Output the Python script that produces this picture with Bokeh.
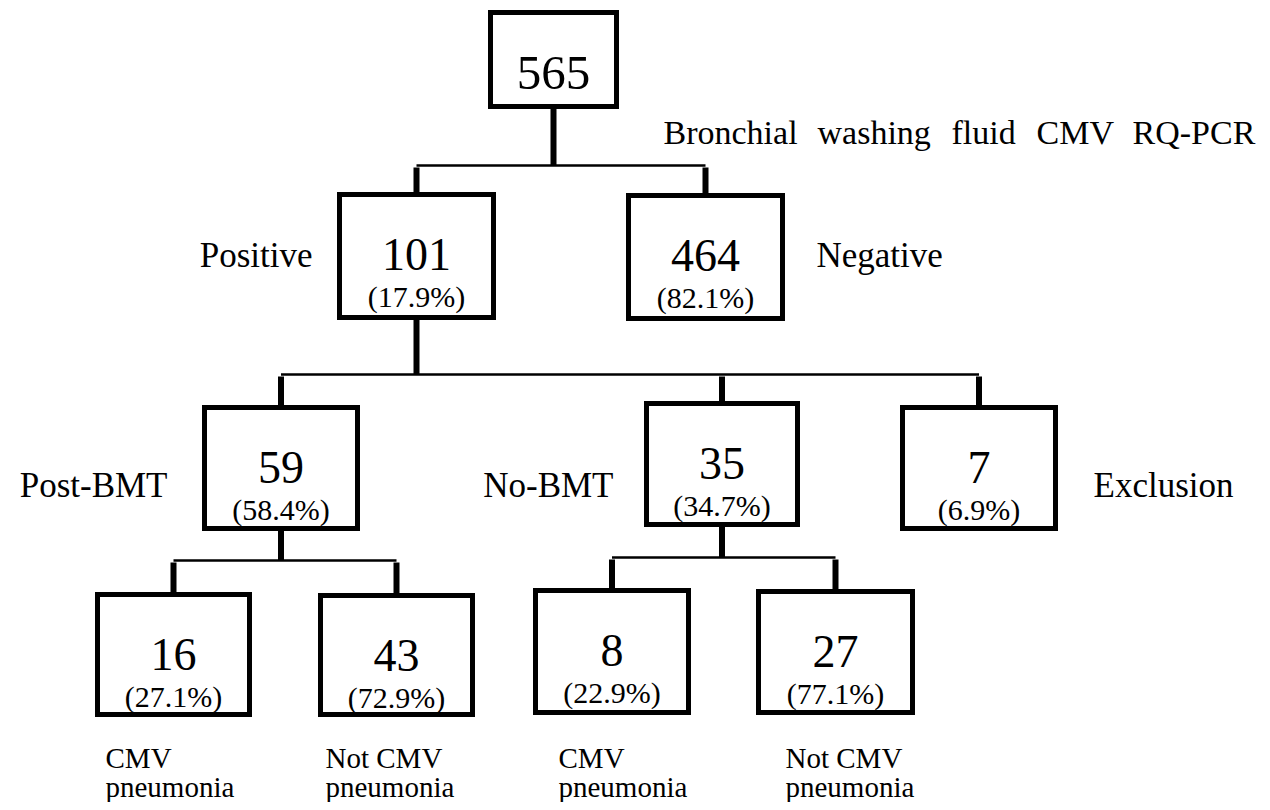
from bokeh.plotting import figure
from bokeh.models import Range1d, ColumnDataSource
from bokeh.core.properties import value
from bokeh.embed import file_html
from bokeh.resources import INLINE

# ---------------- data ----------------
node_ids = ["all", "pos", "neg", "post", "nobmt", "excl",
            "post_cmv", "post_not", "nobmt_cmv", "nobmt_not"]
counts = [565, 101, 464, 59, 35, 7, 16, 43, 8, 27]
pcts = ["", "(17.9%)", "(82.1%)", "(58.4%)", "(34.7%)", "(6.9%)",
        "(27.1%)", "(72.9%)", "(22.9%)", "(77.1%)"]
parents = [None, "all", "all", "pos", "pos", "pos",
           "post", "post", "nobmt", "nobmt"]

side_labels = ["Positive", "Negative", "Post-BMT", "No-BMT", "Exclusion"]
title_words = ["Bronchial", "washing", "fluid", "CMV", "RQ-PCR"]
bottom_top = ["CMV", "Not CMV", "CMV", "Not CMV"]
bottom_bot = ["pneumonia", "pneumonia", "pneumonia", "pneumonia"]

# ---------------- layout (pixel coordinates of the picture) ----------------
box_left = [490, 339, 628, 204, 646, 902, 97, 320, 535, 758]
box_right = [616, 493, 782, 357, 797, 1055, 249, 472, 688, 912]
box_top = [12, 194, 195, 407, 403, 407, 594, 595, 590, 591]
box_bottom = [106, 317, 318, 528, 524, 528, 714, 714, 712, 712]
bus_y = {"all": 165, "pos": 374, "post": 560, "nobmt": 557}

side_x = [312, 816, 167, 613, 1093]
side_y = [255, 255, 485, 485, 485]
side_align = ["right", "left", "right", "right", "left"]

title_x = [663, 817, 951, 1036, 1132]
title_y = 132

bottom_x = [105, 325, 558, 785]
bottom_y1 = 757
bottom_y2 = 786

SERIF = value("Liberation Serif")

W, H = 1262, 802
p = figure(width=W, height=H, x_range=Range1d(0, W), y_range=Range1d(H, 0),
           output_backend="svg", toolbar_location=None, min_border=0,
           x_axis_type=None, y_axis_type=None, outline_line_color=None,
           background_fill_color="white", border_fill_color="white")
p.grid.visible = False

idx = {n: i for i, n in enumerate(node_ids)}
cx = [(l + r) / 2 for l, r in zip(box_left, box_right)]

# connectors
stem_x0, stem_y0, stem_x1, stem_y1 = [], [], [], []
bus_x0, bus_x1, bus_yy = [], [], []
for par, by in bus_y.items():
    pi = idx[par]
    kids = [i for i, pp in enumerate(parents) if pp == par]
    stem_x0.append(cx[pi]); stem_x1.append(cx[pi])
    stem_y0.append(box_bottom[pi]); stem_y1.append(by)
    kx = [cx[k] for k in kids] + [cx[pi]]
    bus_x0.append(min(kx)); bus_x1.append(max(kx)); bus_yy.append(by)
    for k in kids:
        stem_x0.append(cx[k]); stem_x1.append(cx[k])
        stem_y0.append(by + 2); stem_y1.append(box_top[k])

p.segment(x0=bus_x0, y0=bus_yy, x1=bus_x1, y1=bus_yy, line_color="black", line_width=2.5)
p.segment(x0=stem_x0, y0=stem_y0, x1=stem_x1, y1=stem_y1, line_color="black", line_width=6)

# boxes
src = ColumnDataSource(dict(left=box_left, right=box_right, top=box_top, bottom=box_bottom,
                            cx=cx, num=[str(c) for c in counts], pct=pcts,
                            ny=[t + 60 for t in box_top], py=[t + 102 for t in box_top],
                            fs=["49px" if n == "all" else "46px" for n in node_ids]))
p.quad(left="left", right="right", top="top", bottom="bottom", source=src,
       fill_color="white", line_color="black", line_width=5, line_join="miter")
p.text(x="cx", y="ny", text="num", source=src, text_font=SERIF, text_font_size="fs",
       text_align="center", text_baseline="alphabetic", text_color="black")
p.text(x="cx", y="py", text="pct", source=src, text_font=SERIF, text_font_size="30px",
       text_align="center", text_baseline="alphabetic", text_color="black")

# side labels
p.text(x=side_x, y=side_y, text=side_labels, text_font=SERIF, text_font_size="35px",
       text_align=side_align, text_baseline="alphabetic", text_color="black")

# title
p.text(x=title_x, y=[title_y] * len(title_words), text=title_words, text_font=SERIF,
       text_font_size="34px", text_align="left", text_baseline="alphabetic", text_color="black")

# bottom labels
p.text(x=bottom_x, y=[bottom_y1] * 4, text=bottom_top, text_font=SERIF, text_font_size="29px",
       text_align="left", text_baseline="alphabetic", text_color="black")
p.text(x=bottom_x, y=[bottom_y2] * 4, text=bottom_bot, text_font=SERIF, text_font_size="29px",
       text_align="left", text_baseline="alphabetic", text_color="black")

open("out.html", "w").write(file_html(p, INLINE))
